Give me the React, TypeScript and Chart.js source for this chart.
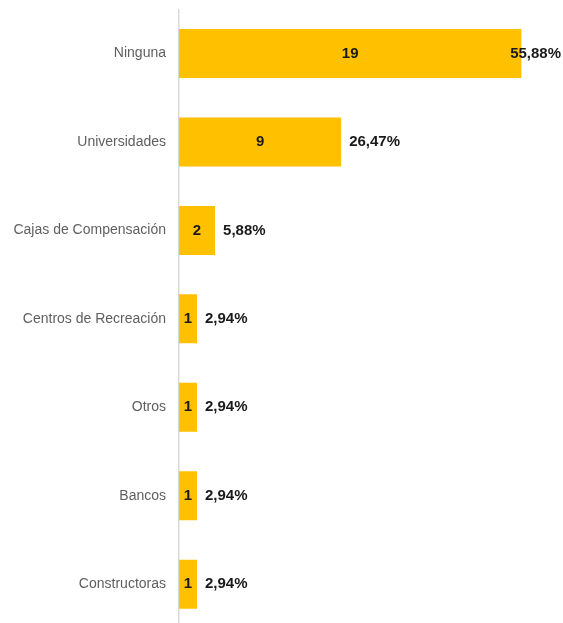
import React, { useEffect, useRef } from "react";
import { Chart, registerables } from "chart.js";

Chart.register(...registerables);

const categories = [
  "Ninguna",
  "Universidades",
  "Cajas de Compensación",
  "Centros de Recreación",
  "Otros",
  "Bancos",
  "Constructoras",
];
const counts = [19, 9, 2, 1, 1, 1, 1];
const percentLabels = ["55,88%", "26,47%", "5,88%", "2,94%", "2,94%", "2,94%", "2,94%"];

const FONT = "'Liberation Sans', Arial, sans-serif";

const labelPlugin = {
  id: "barLabels",
  afterDatasetsDraw(chart: any) {
    const ctx = chart.ctx;
    const meta = chart.getDatasetMeta(0);
    ctx.save();
    ctx.font = `bold 15px ${FONT}`;
    ctx.fillStyle = "#1a1a1a";
    ctx.textBaseline = "middle";
    meta.data.forEach((bar: any, i: number) => {
      const base = bar.base;
      const end = bar.x;
      ctx.textAlign = "center";
      ctx.fillText(String(counts[i]), (base + end) / 2, bar.y);
      const txt = percentLabels[i];
      const w = ctx.measureText(txt).width;
      let x = end + 8;
      if (x + w > chart.width - 2) x = chart.width - 2 - w;
      ctx.textAlign = "left";
      ctx.fillText(txt, x, bar.y);
    });
    ctx.restore();
  },
};

export default function App() {
  const ref = useRef<HTMLCanvasElement>(null);
  useEffect(() => {
    if (!ref.current) return;
    const chart = new Chart(ref.current, {
      type: "bar",
      data: {
        labels: categories,
        datasets: [
          {
            data: counts,
            backgroundColor: "#FFC000",
            borderWidth: 0,
            barPercentage: 0.554,
            categoryPercentage: 1,
          },
        ],
      },
      options: {
        indexAxis: "y",
        animation: false,
        responsive: false,
        maintainAspectRatio: false,
        layout: { padding: { top: 9.3, bottom: 11.6, left: 0, right: 23.6 } },
        plugins: { legend: { display: false }, tooltip: { enabled: false } },
        scales: {
          x: {
            min: 0,
            max: 20,
            display: false,
            grid: { display: false },
          },
          y: {
            grid: { display: false, drawTicks: false },
            border: { display: true, color: "#d9d9d9", width: 1.5 },
            ticks: {
              color: "#5f5f5f",
              font: { family: FONT, size: 14 },
              padding: 13,
            },
            afterFit(scale: any) {
              scale.width = 179;
              scale.paddingTop = 0;
              scale.paddingBottom = 0;
            },
          },
        },
      },
      plugins: [labelPlugin],
    });
    return () => chart.destroy();
  }, []);
  return (
    <div style={{ position: "fixed", left: 0, top: 0, width: 563, height: 640, background: "#fff" }}>
      <canvas ref={ref} width={563} height={640} style={{ width: 563, height: 640 }} />
    </div>
  );
}
